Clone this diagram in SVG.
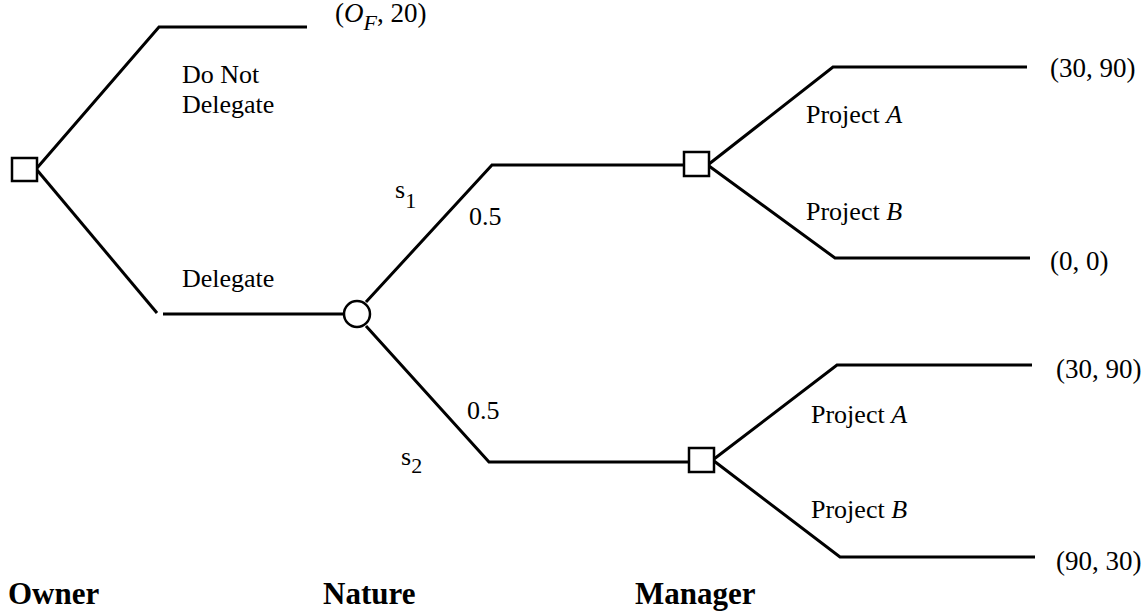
<svg xmlns="http://www.w3.org/2000/svg" width="1146" height="615" viewBox="0 0 1146 615">
<style>
.ln{fill:none;stroke:#000;stroke-width:3;stroke-linejoin:miter}
.nd{fill:#fff;stroke:#000;stroke-width:2.5}
text{font-family:"Liberation Serif","Times New Roman",serif;font-size:26px;fill:#000}
.t{font-size:27px}
.b{font-weight:bold;font-size:31px}
.sub{font-size:22px}
</style>
<rect width="1146" height="615" fill="#fff"/>
<g id="connectors">
<polyline class="ln" points="37,168 159,27 307,27"/>
<polyline class="ln" points="37,170 157,313"/>
<line class="ln" x1="163" y1="314" x2="344" y2="314"/>
<polyline class="ln" points="366,302 492,165 684,165"/>
<polyline class="ln" points="366,326 489,462 689,462"/>
<polyline class="ln" points="709,164 833,67 1027,67"/>
<polyline class="ln" points="709,166 835,258 1030,258"/>
<polyline class="ln" points="714,459 837,365 1032,365"/>
<polyline class="ln" points="714,461 840,557 1035,557"/>
</g>
<g id="owner"><rect class="nd" x="12" y="158" width="25" height="23"/></g>
<g id="nature"><circle class="nd" cx="357" cy="314" r="13"/></g>
<g id="manager1"><rect class="nd" x="684" y="152" width="25" height="24"/></g>
<g id="manager2"><rect class="nd" x="689" y="448" width="25" height="24"/></g>
<g id="labels">
<text class="t" x="335" y="22">(<tspan font-style="italic">O</tspan><tspan class="sub" font-style="italic" dy="8">F</tspan><tspan dy="-8">, 20)</tspan></text>
<text x="182" y="83">Do Not</text>
<text x="182" y="113">Delegate</text>
<text x="182" y="287">Delegate</text>
<text x="395" y="198">s<tspan class="sub" dy="10">1</tspan></text>
<text x="469" y="225">0.5</text>
<text x="467" y="419">0.5</text>
<text x="401" y="465">s<tspan class="sub" dy="8">2</tspan></text>
<text x="806" y="123">Project <tspan font-style="italic">A</tspan></text>
<text x="806" y="220">Project <tspan font-style="italic">B</tspan></text>
<text x="811" y="423">Project <tspan font-style="italic">A</tspan></text>
<text x="811" y="518">Project <tspan font-style="italic">B</tspan></text>
<text class="t" x="1050" y="77">(30, 90)</text>
<text class="t" x="1050" y="270">(0, 0)</text>
<text class="t" x="1056" y="378">(30, 90)</text>
<text class="t" x="1056" y="570">(90, 30)</text>
<text class="b" x="8" y="604">Owner</text>
<text class="b" x="323" y="604">Nature</text>
<text class="b" x="635" y="604">Manager</text>
</g>
</svg>
